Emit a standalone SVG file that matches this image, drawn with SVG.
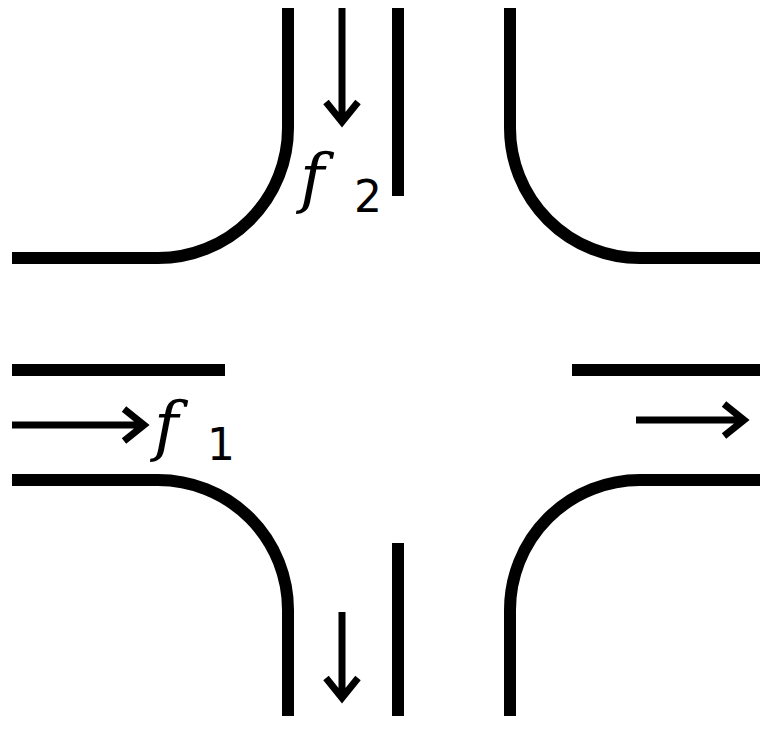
<svg xmlns="http://www.w3.org/2000/svg" width="772" height="730" viewBox="0 0 772 730">
<style>
.w{fill:none;stroke:#000;stroke-width:12}
.a{fill:none;stroke:#000;stroke-width:7}
.f{font-family:"DejaVu Serif",serif;font-style:italic;font-size:66px}
.s{font-family:"DejaVu Sans",sans-serif;font-size:44px}
</style>
<rect width="772" height="730" fill="#fff"/>
<g id="walls">
<path class="w" d="M288 8 V128 A130 130 0 0 1 158 258 H12"/>
<path class="w" d="M510 8 V128 A130 130 0 0 0 640 258 H760"/>
<path class="w" d="M12 480 H158 A130 130 0 0 1 288 610 V716"/>
<path class="w" d="M760 480 H640 A130 130 0 0 0 510 610 V716"/>
<path class="w" d="M398 8 V196"/>
<path class="w" d="M398 543 V716"/>
<path class="w" d="M12 370 H225"/>
<path class="w" d="M572 370 H760"/>
</g>
<g id="connectors">
<path class="a" d="M342 8 V122 M326 102 L342 122 L358 102"/>
<path class="a" d="M342 612 V698 M326 678 L342 698 L358 678"/>
<path class="a" d="M12 425 H144 M124 409 L144 425 L124 441"/>
<path class="a" d="M636 420 H744 M724 404 L744 420 L724 436"/>
</g>
<g id="labels">
<text class="f" x="300" y="200">f</text><text class="s" x="354" y="212">2</text>
<text class="f" x="154" y="448">f</text><text class="s" x="207" y="460">1</text>
</g>
</svg>
